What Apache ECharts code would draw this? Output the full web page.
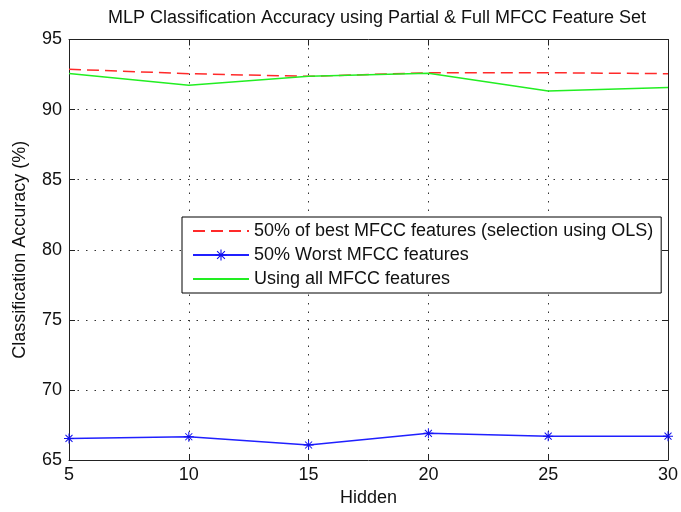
<!DOCTYPE html>
<html>
<head>
<meta charset="utf-8">
<script src="https://cdn.jsdelivr.net/npm/echarts@6/dist/echarts.min.js"></script>
<style>
html,body{margin:0;padding:0;background:#fff;}
#c{width:681px;height:512px;}
</style>
</head>
<body>
<div id="c"></div>
<script>
const hidden = [5, 10, 15, 20, 25, 30];
const bestOLS = [92.88, 92.56, 92.37, 92.63, 92.63, 92.56];
const worst = [66.54, 66.66, 66.07, 66.90, 66.70, 66.70];
const allFeat = [92.58, 91.74, 92.37, 92.60, 91.32, 91.58];
const seriesNames = ['50% of best MFCC features (selection using OLS)', '50% Worst MFCC features', 'Using all MFCC features'];
const xTicks = [5, 10, 15, 20, 25, 30];
const yTicks = [65, 70, 75, 80, 85, 90, 95];
const titleText = 'MLP Classification Accuracy using Partial & Full MFCC Feature Set';
const xName = 'Hidden';
const yName = 'Classification Accuracy (%)';

const FONT = 'Liberation Sans, Arial, sans-serif';
const pair = (xs, ys) => xs.map((x, i) => [x, ys[i]]);
const star = 'path://M-1,-10L1,-10L1,10L-1,10Z M-10,-1L10,-1L10,1L-10,1Z M-6.3,-7.7L7.7,6.3L6.3,7.7L-7.7,-6.3Z M7.7,-6.3L-6.3,7.7L-7.7,6.3L6.3,-7.7Z';

const axisColor = '#222';
const gridLine = {show: true, lineStyle: {color: '#333', width: 1, type: [1.5, 7]}};
const hiddenMarker = {color: 'rgba(0,0,0,0)', opacity: 0, borderWidth: 0};

const chart = echarts.init(document.getElementById('c'), null, {renderer: 'canvas'});
chart.setOption({
  backgroundColor: '#fff',
  animation: false,
  title: {
    text: titleText, left: 372, top: 4, textAlign: 'center',
    textStyle: {fontFamily: FONT, fontSize: 18, fontWeight: 'normal', color: '#111'}
  },
  grid: {left: 69, right: 6, top: 39.5, bottom: 45, containLabel: false},
  legend: {
    orient: 'vertical', left: 182, top: 217,
    padding: [2, 8, 2, 10], itemGap: 0, itemWidth: 56, itemHeight: 14, itemTextGap: 5,
    backgroundColor: '#fff', borderColor: '#000', borderWidth: 1, borderRadius: 0,
    textStyle: {fontFamily: FONT, fontSize: 18, color: '#111', lineHeight: 24},
    data: [
      {name: seriesNames[0], itemStyle: hiddenMarker},
      {name: seriesNames[1]},
      {name: seriesNames[2], itemStyle: hiddenMarker}
    ]
  },
  xAxis: [{
    type: 'value', min: xTicks[0], max: xTicks[xTicks.length - 1], interval: 5,
    name: xName, nameLocation: 'middle', nameGap: 29,
    nameTextStyle: {fontFamily: FONT, fontSize: 18, color: '#111'},
    axisLine: {show: true, onZero: false, lineStyle: {color: axisColor, width: 1}},
    axisTick: {show: true, inside: true, length: 6, lineStyle: {color: axisColor}},
    axisLabel: {fontFamily: FONT, fontSize: 18, color: '#111', margin: 6},
    splitLine: gridLine
  }, {
    type: 'value', position: 'top', min: xTicks[0], max: xTicks[xTicks.length - 1], interval: 5,
    axisLine: {show: true, onZero: false, lineStyle: {color: axisColor, width: 1}},
    axisTick: {show: true, inside: true, length: 6, lineStyle: {color: axisColor}},
    axisLabel: {show: false}, splitLine: {show: false}
  }],
  yAxis: [{
    type: 'value', min: yTicks[0], max: yTicks[yTicks.length - 1], interval: 5,
    name: yName, nameLocation: 'middle', nameGap: 40,
    nameTextStyle: {fontFamily: FONT, fontSize: 18, color: '#111'},
    axisLine: {show: true, onZero: false, lineStyle: {color: axisColor, width: 1}},
    axisTick: {show: true, inside: true, length: 6, lineStyle: {color: axisColor}},
    axisLabel: {fontFamily: FONT, fontSize: 18, color: '#111', margin: 7},
    splitLine: gridLine
  }, {
    type: 'value', position: 'right', min: yTicks[0], max: yTicks[yTicks.length - 1], interval: 5,
    axisLine: {show: true, onZero: false, lineStyle: {color: axisColor, width: 1}},
    axisTick: {show: true, inside: true, length: 6, lineStyle: {color: axisColor}},
    axisLabel: {show: false}, splitLine: {show: false}
  }],
  series: [{
    name: seriesNames[0], type: 'line', data: pair(hidden, bestOLS),
    symbol: 'none', lineStyle: {color: '#ff2a2a', width: 1.5, type: [12, 6]},
    itemStyle: {color: '#ff2a2a'}
  }, {
    name: seriesNames[1], type: 'line', data: pair(hidden, worst),
    symbol: star, symbolSize: 10,
    lineStyle: {color: '#2020ff', width: 1.5},
    itemStyle: {color: '#1010ee'}
  }, {
    name: seriesNames[2], type: 'line', data: pair(hidden, allFeat),
    symbol: 'none', lineStyle: {color: '#22ee22', width: 1.5},
    itemStyle: {color: '#22ee22'}
  }]
});
</script>
</body>
</html>
